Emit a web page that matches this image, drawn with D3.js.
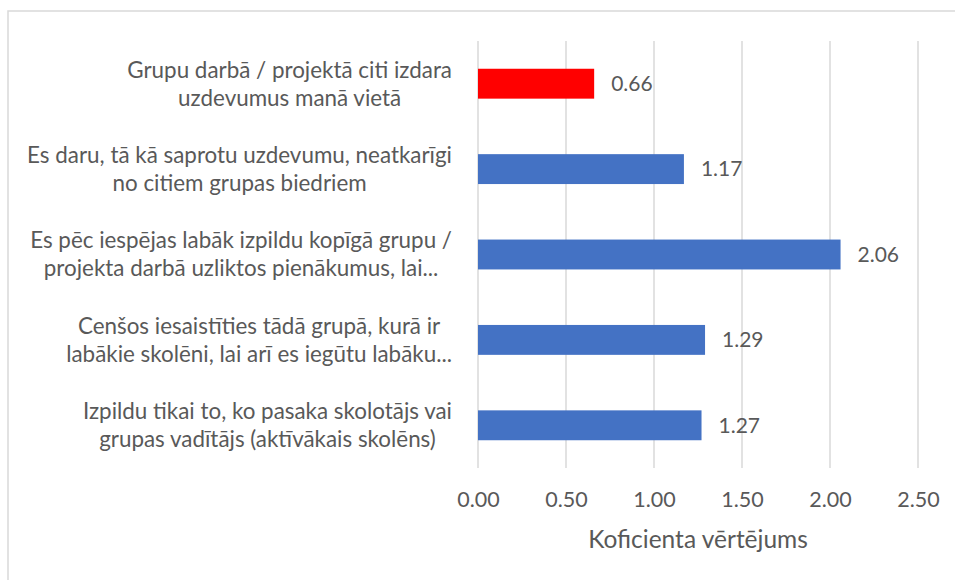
<!DOCTYPE html>
<html>
<head>
<meta charset="utf-8">
<script src="https://cdn.jsdelivr.net/npm/d3@7"></script>
<style>
  body { margin: 0; background: #fff; }
  text { font-family: Lato, "Open Sans", sans-serif; fill: #595959; }
</style>
</head>
<body>
<div id="chart"></div>
<script>
// Category labels (already wrapped as in the original), top to bottom
const categories = [
    ["Grupu darbā / projektā citi izdara", "uzdevumus manā vietā"],
    ["Es daru, tā kā saprotu uzdevumu, neatkarīgi", "no citiem grupas biedriem"],
    ["Es pēc iespējas labāk izpildu kopīgā grupu /", "projekta darbā uzliktos pienākumus, lai..."],
    ["Cenšos iesaistīties tādā grupā, kurā ir", "labākie skolēni, lai arī es iegūtu labāku..."],
    ["Izpildu tikai to, ko pasaka skolotājs vai", "grupas vadītājs (aktīvākais skolēns)"]
];
const values = [0.66, 1.17, 2.06, 1.29, 1.27];
const barColors = ["#ff0000", "#4472c4", "#4472c4", "#4472c4", "#4472c4"];
const xTicks = [0, 0.5, 1.0, 1.5, 2.0, 2.5];
const xTitle = "Koficienta vērtējums";

const width = 955, height = 580;

const svg = d3.select("#chart").append("svg")
    .attr("width", width)
    .attr("height", height);

// chart border
svg.append("rect")
    .attr("x", 8).attr("y", 11)
    .attr("width", width).attr("height", height)
    .attr("fill", "none")
    .attr("stroke", "#d9d9d9")
    .attr("stroke-width", 1.5);

const x = d3.scaleLinear()
    .domain([0, 2.5])
    .range([478, 918]);

const y = d3.scaleBand()
    .domain(d3.range(categories.length))
    .range([41, 468])
    .paddingInner(0.65)
    .paddingOuter(0.325);

// vertical gridlines
svg.append("g")
    .selectAll("line")
    .data(xTicks)
    .join("line")
    .attr("x1", d => x(d)).attr("x2", d => x(d))
    .attr("y1", 41).attr("y2", 468)
    .attr("stroke", "#d9d9d9")
    .attr("stroke-width", 1.5);

// bars
svg.append("g")
    .selectAll("rect")
    .data(values)
    .join("rect")
    .attr("x", x(0))
    .attr("y", (d, i) => y(i))
    .attr("width", d => x(d) - x(0))
    .attr("height", y.bandwidth())
    .attr("fill", (d, i) => barColors[i]);

// value labels
svg.append("g")
    .selectAll("text")
    .data(values)
    .join("text")
    .attr("x", d => x(d) + 17)
    .attr("y", (d, i) => y(i) + y.bandwidth() / 2)
    .attr("dy", "0.35em")
    .style("font-size", "21px")
    .text(d => d.toFixed(2));

// x axis tick labels
const xAxis = svg.append("g")
    .attr("transform", "translate(0,468)")
    .call(d3.axisBottom(x).tickValues(xTicks).tickFormat(d3.format(".2f")).tickSize(0).tickPadding(24));
xAxis.select(".domain").remove();
xAxis.selectAll("text")
    .style("font-size", "21.5px")
    .style("font-family", "Lato, sans-serif")
    .attr("fill", "#595959");

// axis title
svg.append("text")
    .attr("x", (x(0) + x(2.5)) / 2)
    .attr("y", 539)
    .attr("dy", "0.35em")
    .attr("text-anchor", "middle")
    .style("font-size", "24.5px")
    .text(xTitle);

// category labels, lines centred within each block, block right-aligned
const labelRight = 452;
categories.forEach((lines, i) => {
    const cy = y(i) + y.bandwidth() / 2;
    const g = svg.append("g");
    const texts = g.selectAll("text")
        .data(lines)
        .join("text")
        .attr("y", (d, j) => cy + (j - (lines.length - 1) / 2) * 28)
        .attr("dy", "0.35em")
        .attr("text-anchor", "middle")
        .style("font-size", "22.4px")
        .text(d => d);
    const maxW = d3.max(texts.nodes(), n => n.getComputedTextLength());
    texts.attr("x", labelRight - maxW / 2);
});
</script>
</body>
</html>
